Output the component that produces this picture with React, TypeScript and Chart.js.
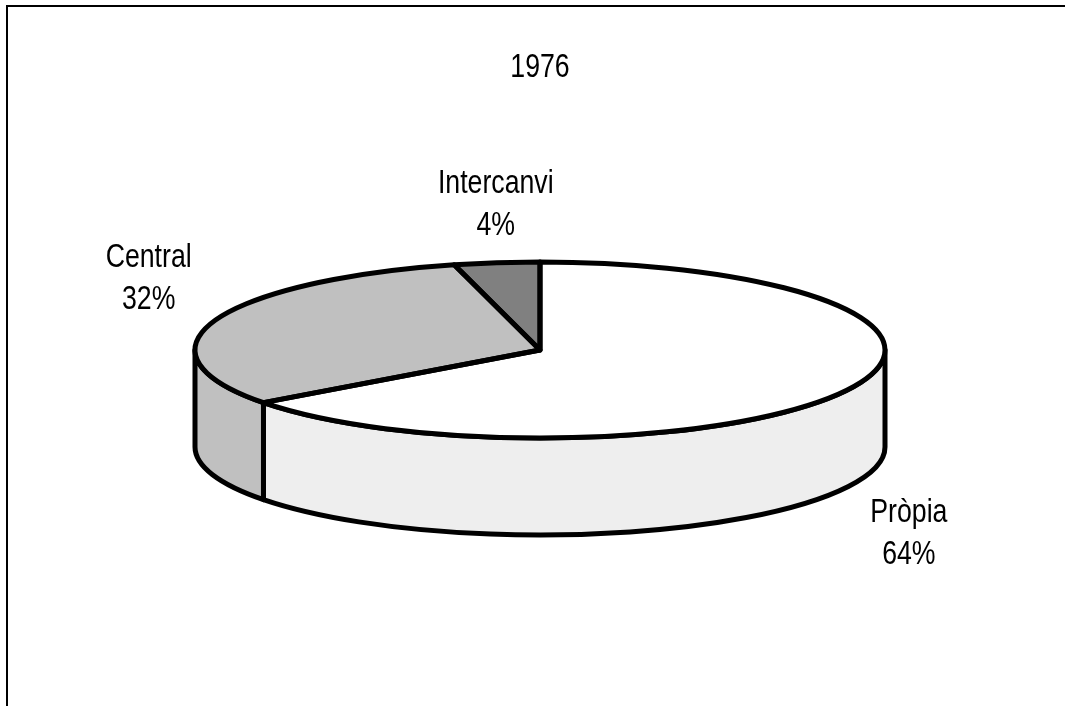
import React, { useEffect, useRef } from "react";
import { Chart, registerables } from "chart.js";

Chart.register(...registerables);

const chartTitle = "1976";
const categories = ["Pròpia", "Central", "Intercanvi"];
const shares = [64.8, 31.2, 4.0];
const percentLabels = ["64%", "32%", "4%"];
const topColors = ["#ffffff", "#c0c0c0", "#808080"];
const wallColors = ["#eeeeee", "#c0c0c0", "#808080"];
const labelOffsets = [
  [60.5, 133],
  [-66, -53.7],
  [-1, -69.7],
];

const FONT = '"Liberation Sans", Arial, sans-serif';
const FONT_SIZE = 34;
const CONDENSE = 0.785;
const LINE_GAP = 42;
const TITLE_BASELINE = 77;
const TILT = 88 / 345;
const DEPTH = 97;
const LINE = 5;

function narrowText(ctx: CanvasRenderingContext2D, text: string, x: number, y: number) {
  ctx.save();
  ctx.translate(x, y);
  ctx.scale(CONDENSE, 1);
  ctx.fillText(text, 0, 0);
  ctx.restore();
}

const pie3d = {
  id: "pie3d",
  beforeDraw(chart: any) {
    const { ctx, width, height } = chart;
    ctx.save();
    ctx.fillStyle = "#ffffff";
    ctx.fillRect(0, 0, width, height);
    ctx.fillStyle = "#000000";
    ctx.fillRect(6, 5, width - 6, 2);
    ctx.fillRect(6, 5, 2, height - 5);
    ctx.restore();
  },
  beforeDatasetsDraw(chart: any) {
    const { ctx } = chart;
    const arcs = chart.getDatasetMeta(0).data;
    const { x: cx, y: cy, outerRadius: rx } = arcs[0];
    const ry = rx * TILT;
    ctx.save();
    ctx.lineWidth = LINE;
    ctx.lineJoin = "round";
    ctx.strokeStyle = "#000000";
    arcs.forEach((arc: any, i: number) => {
      const a = Math.max(arc.startAngle, 0);
      const b = Math.min(arc.endAngle, Math.PI);
      if (b <= a) return;
      ctx.beginPath();
      ctx.ellipse(cx, cy, rx, ry, 0, a, b);
      ctx.lineTo(cx + rx * Math.cos(b), cy + ry * Math.sin(b) + DEPTH);
      ctx.ellipse(cx, cy + DEPTH, rx, ry, 0, b, a, true);
      ctx.closePath();
      ctx.fillStyle = wallColors[i];
      ctx.fill();
      ctx.stroke();
    });
    ctx.restore();
    // flatten the library's own arcs into the tilted top of the pie
    ctx.save();
    ctx.translate(cx, cy);
    ctx.scale(1, TILT);
    ctx.translate(-cx, -cy);
  },
  afterDatasetsDraw(chart: any) {
    const { ctx } = chart;
    ctx.restore();
    const arcs = chart.getDatasetMeta(0).data;
    const { x: cx, y: cy, outerRadius: rx } = arcs[0];
    const ry = rx * TILT;
    ctx.save();
    ctx.lineWidth = LINE;
    ctx.lineJoin = "round";
    ctx.strokeStyle = "#000000";
    arcs.forEach((arc: any) => {
      ctx.beginPath();
      ctx.moveTo(cx, cy);
      ctx.ellipse(cx, cy, rx, ry, 0, arc.startAngle, arc.endAngle);
      ctx.closePath();
      ctx.stroke();
    });
    ctx.fillStyle = "#000000";
    ctx.font = `${FONT_SIZE}px ${FONT}`;
    ctx.textAlign = "center";
    ctx.textBaseline = "alphabetic";
    narrowText(ctx, chartTitle, cx, TITLE_BASELINE);
    arcs.forEach((arc: any, i: number) => {
      const mid = (arc.startAngle + arc.endAngle) / 2;
      const lx = cx + rx * Math.cos(mid) + labelOffsets[i][0];
      const ly = cy + ry * Math.sin(mid) + labelOffsets[i][1];
      narrowText(ctx, categories[i], lx, ly);
      narrowText(ctx, percentLabels[i], lx, ly + LINE_GAP);
    });
    ctx.restore();
  },
};

export default function App() {
  const ref = useRef<HTMLCanvasElement>(null);
  useEffect(() => {
    document.body.style.margin = "0";
    document.body.style.background = "#ffffff";
    const chart = new Chart(ref.current as HTMLCanvasElement, {
      type: "pie",
      data: {
        labels: categories,
        datasets: [
          {
            data: shares,
            backgroundColor: topColors,
            borderWidth: 0,
            radius: 345,
            clip: false,
          } as any,
        ],
      },
      options: {
        responsive: false,
        animation: false,
        events: [],
        layout: { padding: { left: 15, right: 0, top: 0, bottom: 6 } },
        plugins: {
          legend: { display: false },
          tooltip: { enabled: false },
          title: { display: false, text: chartTitle },
        },
      },
      plugins: [pie3d],
    });
    return () => chart.destroy();
  }, []);
  return <canvas ref={ref} width={1065} height={706} style={{ display: "block" }} />;
}
